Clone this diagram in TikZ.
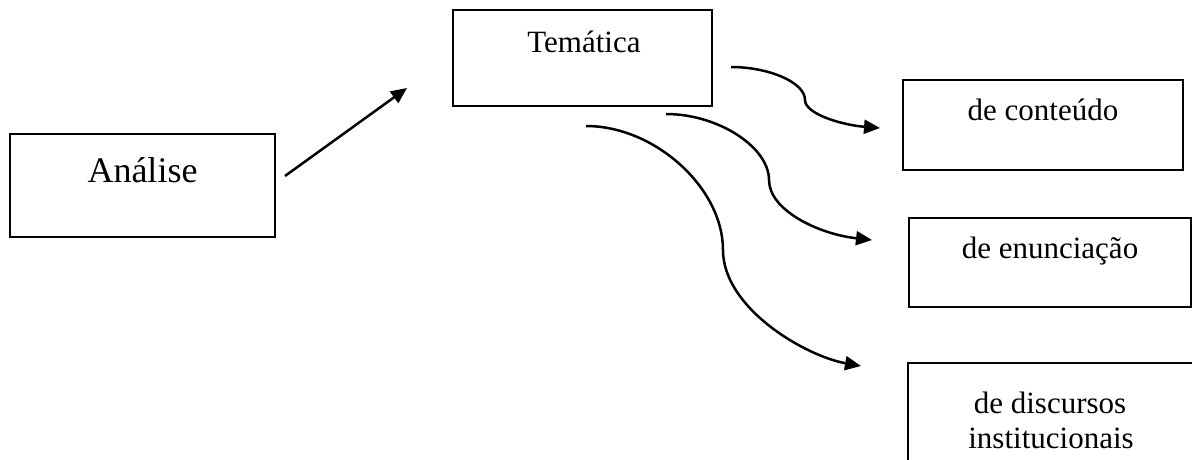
\documentclass[tikz,border=0pt]{standalone}
\usepackage{fontspec}
\setmainfont{Liberation Serif}
\usetikzlibrary{arrows.meta}
\begin{document}
\begin{tikzpicture}[x=1pt,y=-1pt,
  box/.style={draw, line width=2.6pt, rectangle, inner sep=0pt},
  lbl/.style={inner sep=0pt, anchor=base, font=\fontsize{31}{35}\selectfont},
  biglbl/.style={inner sep=0pt, anchor=base, font=\fontsize{36}{40}\selectfont},
  link/.style={line width=2.5pt, -{Triangle[length=16pt,width=14pt]}}]
\clip (0,0) rectangle (1192,459);

% boxes
\node[box, minimum width=265pt, minimum height=103pt] (analise) at (142.5,185.5) {};
\node[box, minimum width=259pt, minimum height=96pt] (tematica) at (582.5,58) {};
\node[box, minimum width=280pt, minimum height=90pt] (conteudo) at (1043,125) {};
\node[box, minimum width=282pt, minimum height=89pt] (enunciacao) at (1050,262.5) {};
\node[box, minimum width=292pt, minimum height=120pt] (discursos) at (1054,423) {};

% labels, set near the top of each box
\node[biglbl] (t-analise) at (142.5,182) {Análise};
\node[lbl] (t-tematica) at (584,52) {Temática};
\node[lbl] (t-conteudo) at (1043,120) {de conteúdo};
\node[lbl] (t-enunciacao) at (1050,258) {de enunciação};
\node[lbl] (t-discursos1) at (1050,413) {de discursos};
\node[lbl] (t-discursos2) at (1051,448) {institucionais};

% connector end points
\coordinate (a0) at (285,176);
\coordinate (a1) at (407,88);
\coordinate (c1s) at (731,67);
\coordinate (c1m) at (805,100);
\coordinate (c1e) at (880,128);
\coordinate (c2s) at (666,114);
\coordinate (c2m) at (769,180);
\coordinate (c2e) at (872,240);
\coordinate (c3s) at (586,126);
\coordinate (c3m) at (723,250);
\coordinate (c3e) at (861,366);

% connectors
\draw[link] (a0) -- (a1);
\draw[link] (c1s) .. controls (768,67) and (805,82) .. (c1m)
                  .. controls (805,114) and (842,125) .. (c1e);
\draw[link] (c2s) .. controls (718,114) and (769,147) .. (c2m)
                  .. controls (769,210) and (818,234) .. (c2e);
\draw[link] (c3s) .. controls (655,126) and (723,188) .. (c3m)
                  .. controls (723,308) and (805,356) .. (c3e);
\end{tikzpicture}
\end{document}
